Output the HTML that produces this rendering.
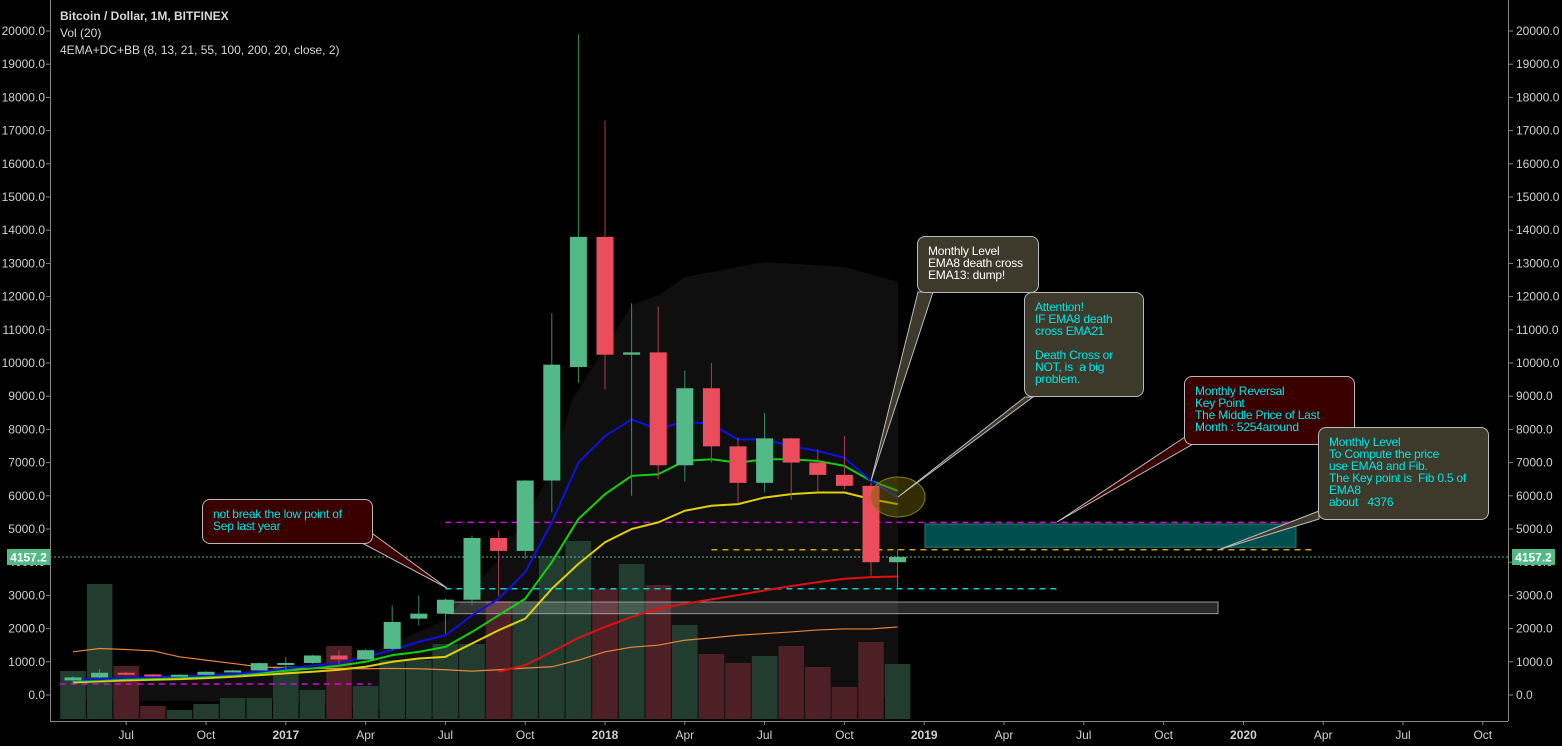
<!DOCTYPE html>
<html><head><meta charset="utf-8">
<style>
html,body{margin:0;padding:0;background:#000;}
body{width:1562px;height:746px;overflow:hidden;font-family:"Liberation Sans",sans-serif;}
svg{display:block;}
.hdr{position:absolute;left:60px;color:#d8d8d8;font-size:12px;}
.box{position:absolute;font-family:"Liberation Sans",sans-serif;font-size:12px;line-height:12px;padding:8px 0 0 10px;box-sizing:border-box;border:1px solid #bbb;border-radius:8px;white-space:pre;letter-spacing:-0.2px;}
</style></head>
<body>
<svg id="chart" width="1562" height="746"></svg>
<div class="hdr" style="top:9px;font-weight:bold;">Bitcoin / Dollar, 1M, BITFINEX</div>
<div class="hdr" style="top:26px;">Vol (20)</div>
<div class="hdr" style="top:43px;">4EMA+DC+BB (8, 13, 21, 55, 100, 200, 20, close, 2)</div>

<div class="box" style="left:202px;top:499px;width:171px;height:45px;background:#3a0000;color:#00e5e5;">not break the low point of
Sep last year</div>
<div class="box" style="left:917px;top:236px;width:122px;height:57px;background:#3d3a2b;color:#fff;">Monthly Level
EMA8 death cross
EMA13: dump!</div>
<div class="box" style="left:1024px;top:292px;width:120px;height:105px;background:#3d3a2b;color:#00e5e5;">Attention!
IF EMA8 death
cross EMA21

Death Cross or
NOT, is  a big
problem.</div>
<div class="box" style="left:1184px;top:376px;width:171px;height:69px;background:#3a0000;color:#00e5e5;">Monthly Reversal
Key Point
The Middle Price of Last
Month : 5254around</div>
<div class="box" style="left:1318px;top:427px;width:171px;height:93px;background:#3d3a2b;color:#00e5e5;">Monthly Level
To Compute the price
use EMA8 and Fib.
The Key point is  Fib 0.5 of
EMA8
about   4376</div>

<script>
// ---- data ----
const months = ["May16","Jun16","Jul16","Aug16","Sep16","Oct16","Nov16","Dec16","Jan17","Feb17","Mar17","Apr17","May17","Jun17","Jul17","Aug17","Sep17","Oct17","Nov17","Dec17","Jan18","Feb18","Mar18","Apr18","May18","Jun18","Jul18","Aug18","Sep18","Oct18","Nov18","Dec18"];
const opens  = [440,530,670,620,575,610,700,740,960,965,1190,1070,1390,2300,2450,2870,4730,4340,6460,9880,13800,10250,10320,6920,9240,7490,6390,7730,7000,6630,6300,4000];
const closes = [530,670,620,570,610,700,740,960,965,1190,1070,1350,2200,2450,2870,4730,4340,6460,9950,13800,10250,10320,6920,9240,7490,6390,7730,7000,6630,6300,4000,4157];
const highs  = [560,780,700,640,620,720,760,980,1150,1210,1350,1380,2700,3000,2900,4800,4950,6470,11500,19900,17300,11800,11700,9770,10000,7760,8500,7750,7400,7800,6400,4400];
const lows   = [360,500,600,550,560,600,680,730,750,940,900,1050,1350,2100,1850,2700,2970,4100,5500,9400,9200,6000,6500,6430,7000,5770,6100,5880,6120,6200,3600,3200];
const volumes= [48,135,53,13,9,15,21,21,53,29,73,33,59,59,75,75,118,116,163,178,130,155,134,94,65,56,63,73,52,32,77,55];
const ema8   = [450,480,520,540,560,590,630,700,800,880,960,1150,1350,1600,1800,2400,2900,3700,5200,7000,7800,8300,8000,8250,8150,7700,7700,7500,7350,7150,6450,5950];
const ema13  = [420,450,490,510,530,560,600,660,730,800,880,1000,1200,1300,1450,1900,2400,2900,4000,5300,6050,6600,6650,7050,7100,7000,7100,7100,7050,6900,6450,6150];
const ema21  = [380,410,440,460,480,510,550,600,650,700,760,850,1000,1100,1150,1550,1950,2300,3200,3950,4600,5000,5200,5550,5700,5750,5950,6050,6100,6100,5900,5750];
const ema55  = [null,null,null,null,null,null,null,null,null,null,null,null,null,null,null,null,700,900,1300,1720,2050,2350,2600,2750,2880,3010,3150,3280,3400,3500,3550,3570];
const ema100 = [1300,1400,1370,1330,1150,1050,950,850,810,800,800,790,800,790,760,720,760,810,850,1050,1300,1440,1500,1650,1720,1800,1850,1900,1960,1990,1990,2050];
const priceTicks = [0,1000,2000,3000,4000,5000,6000,7000,8000,9000,10000,11000,12000,13000,14000,15000,16000,17000,18000,19000,20000];
const timeLabels = [["Jul",2],["Oct",5],["2017",8],["Apr",11],["Jul",14],["Oct",17],["2018",20],["Apr",23],["Jul",26],["Oct",29],["2019",32],["Apr",35],["Jul",38],["Oct",41],["2020",44],["Apr",47],["Jul",50],["Oct",53]];
const lastPrice = 4157.2;
const levels = [ // price, fromIdx, toIdx, color
  [5200,14,46.6,"#e000e0"],[330,-0.5,11.2,"#e000e0"],[3200,14,37.0,"#00d0d0"],[4376,24.0,46.6,"#c8a800"]
];

// ---- scales ----
const X0=73, DX=26.6;
const xs = i => X0 + i*DX;
const ys = p => 695 - p*0.0332;
const VB = 719;
const vy = v => VB - v;

const svg = document.getElementById('chart');
const NS = "http://www.w3.org/2000/svg";
function mk(tag, attrs, parent){ const e=document.createElementNS(NS,tag); for(const k in attrs) e.setAttribute(k,attrs[k]); (parent||svg).appendChild(e); return e; }

// band shade
const bandTop = [[73,680],[287,668],[365,655],[446,620],[498,560],[525,520],[552,470],[572,400],[632,305],[659,295],[685,277],[765,262],[845,267],[898,282]];
const bandBot = [[898,690],[845,719],[446,719],[400,712],[300,702],[73,700]];
let band = mk('polygon',{points:bandTop.concat(bandBot).map(p=>p.join(',')).join(' '),fill:'#0f0f0f'});



// volume bars
const gVol = mk('g',{});


volumes.forEach((v,i)=>{
  const up = closes[i]>=opens[i];
  const r = mk('rect',{x:xs(i)-12.8,y:vy(v),width:25.6,height:v,fill:up?'#223d30':'#4d2026'},gVol);
  
  
});

// levels
levels.forEach(l=>{
  const ln = mk('line',{x1:xs(l[1]),x2:xs(l[2]),y1:ys(l[0]),y2:ys(l[0]),stroke:l[3],'stroke-width':1.5,'stroke-dasharray':'6,5'});
  
  
});
const cur = mk('line',{x1:50,x2:1508,y1:ys(lastPrice),y2:ys(lastPrice),stroke:'#53b987','stroke-width':1,'stroke-dasharray':'2,2'});



// rectangles
const teal = mk('rect',{x:925,y:ys(5150),width:371,height:ys(4450)-ys(5150),fill:'#004f4f',stroke:'#2a7a7a','stroke-width':1});


const grayR = mk('rect',{x:447,y:ys(2800),width:771,height:ys(2450)-ys(2800),fill:'rgba(255,255,255,0.16)',stroke:'#999','stroke-width':1});



// emas
function line(arr,color,w,name){
  const pts=[]; arr.forEach((v,i)=>{ if(v!==null) pts.push(xs(i)+','+ys(v)); });
  const p = mk('polyline',{points:pts.join(' '),fill:'none',stroke:color,'stroke-width':w,'stroke-linejoin':'round'});
  
  
}
line(ema100,'#e8863a',1.2,'ema100-line');
line(ema55,'#e01010',2,'ema55-line');
line(ema21,'#e0d000',2,'ema21-line');
line(ema13,'#10d010',2,'ema13-line');
line(ema8,'#1010e0',2,'ema8-line');

// candles
const gC = mk('g',{});


months.forEach((m,i)=>{
  const up = closes[i]>=opens[i];
  const col = up?'#53b987':'#eb4d5c';
  const wk = mk('line',{x1:xs(i),x2:xs(i),y1:ys(highs[i]),y2:ys(lows[i]),stroke:up?'#3a8a66':'#a8404c','stroke-width':1},gC);
  
  
  const t = ys(Math.max(opens[i],closes[i])), b = ys(Math.min(opens[i],closes[i]));
  const bd = mk('rect',{x:xs(i)-8.5,y:t,width:17,height:Math.max(b-t,2),fill:col},gC);
  
  
});

// ellipse highlight
const el = mk('ellipse',{cx:898,cy:497,rx:27,ry:20,fill:'rgba(110,100,0,0.45)',stroke:'#8a8000','stroke-width':1});



// callout pointers
const pointers = [
  [[362,543],[373,534],[447,588],'#3a0000'],
  [[918,292],[933,292],[871,481],'#3d3a2b'],
  [[1025,397],[1033,397],[898,497],'#3d3a2b'],
  [[1185,437],[1193,444],[1057,522],'#3a0000'],
  [[1319,511],[1319,519],[1218,550],'#3d3a2b']
];
pointers.forEach(p=>{
  const pg = mk('polygon',{points:[p[0],p[2],p[1]].map(q=>q.join(',')).join(' '),fill:p[3],stroke:'#bbb','stroke-width':1});
  
  
});

// axes
const axL = mk('line',{x1:50.5,x2:50.5,y1:0,y2:721,stroke:'#888','stroke-width':1});


const axR = mk('line',{x1:1508.5,x2:1508.5,y1:0,y2:721,stroke:'#888','stroke-width':1});


const axB = mk('line',{x1:50,x2:1508,y1:721.5,y2:721.5,stroke:'#888','stroke-width':1});



priceTicks.forEach(p=>{
  const y = ys(p);
  [[46,50,'end'],[1509,1513,'start']].forEach(s=>{
    const tk = mk('line',{x1:s[0],x2:s[1],y1:y,y2:y,stroke:'#888'});
    
    
    const t = mk('text',{x:s[2]==='end'?45:1516,y:y+4,fill:'#d0d0d0','font-size':12,'text-anchor':s[2],'font-family':'Liberation Sans, sans-serif'});
    t.textContent = p.toFixed(1);
    
    
  });
});
timeLabels.forEach(l=>{
  const x = xs(l[1]);
  const tk = mk('line',{x1:x,x2:x,y1:721,y2:725,stroke:'#888'});
  
  
  const bold = /^\d/.test(l[0]);
  const t = mk('text',{x:x,y:739,fill:'#d0d0d0','font-size':12,'text-anchor':'middle','font-weight':bold?'bold':'normal','font-family':'Liberation Sans, sans-serif'});
  t.textContent = l[0];
  
  
});

// last price labels
[[7,50],[1512,1555]].forEach(s=>{
  const y=ys(lastPrice);
  const r = mk('rect',{x:s[0],y:y-8,width:s[1]-s[0],height:16,fill:'#53b987'});
  
  
  const t = mk('text',{x:(s[0]+s[1])/2,y:y+4.5,fill:'#fff','font-size':12,'font-weight':'bold','text-anchor':'middle','font-family':'Liberation Sans, sans-serif'});
  t.textContent = lastPrice.toFixed(1);
  
  
});
</script>
</body></html>
